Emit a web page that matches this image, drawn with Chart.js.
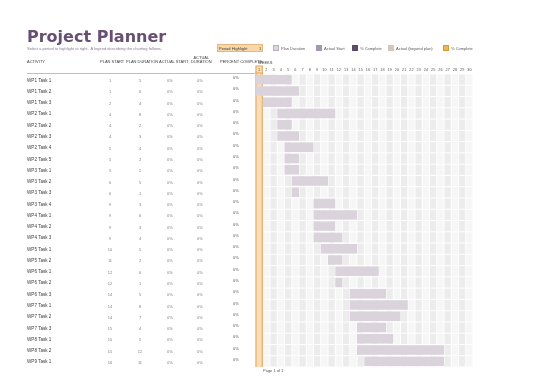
<!DOCTYPE html>
<html>
<head>
<meta charset="utf-8">
<script src="https://cdn.jsdelivr.net/npm/chart.js@4.4.0/dist/chart.umd.min.js"></script>
<style>
  body { margin: 0; background: #fff; }
  #page { position: relative; width: 550px; height: 388px; overflow: hidden; font-family: "Liberation Sans", Arial, sans-serif; color: #595959; }
  #chart { position: absolute; left: 0; top: 0; }
  .t { position: absolute; white-space: nowrap; line-height: 1; }
  #title { left: 27px; top: 27px; font: bold 16px "DejaVu Sans", sans-serif; color: #674f72; }
  #sub { left: 27px; top: 47px; font-size: 4px; color: #8a7a93; }
  .hd { font-size: 4px; top: 60px; color: #404040; }
  .cell { font-size: 4.6px; color: #404040; }
  .num { font-size: 4px; color: #7f7f7f; transform: translateX(-50%); }
  #rule { position: absolute; left: 27px; top: 73px; width: 228px; height: 1px; background: #bfbfbf; }
  #ph { position: absolute; left: 217px; top: 44px; width: 46px; height: 8px; background: #f9d7a9; border: 0.5px solid #e3b77d; box-sizing: border-box; }
  .sw { position: absolute; top: 45px; width: 6px; height: 6px; box-sizing: border-box; }
  .lg { font-size: 4px; top: 46.5px; color: #595959; }
</style>
</head>
<body>
<div id="page">
  <canvas id="chart" width="550" height="388"></canvas>
  <div class="t" id="title">Project Planner</div>
  <div class="t" id="sub">Select a period to highlight at right.&nbsp; A legend describing the charting follows.</div>
  <div id="ph"></div>
  <div class="t lg" style="left:219px;color:#404040">Period Highlight</div>
  <div class="t lg" style="left:259px;color:#404040">1</div>
  <div id="legend"></div>
  <div class="t hd" style="left:27px">ACTIVITY</div>
  <div class="t hd" style="left:100px">PLAN START</div>
  <div class="t hd" style="left:126px">PLAN DURATION</div>
  <div class="t hd" style="left:159px">ACTUAL START</div>
  <div class="t hd" style="left:191px;top:56px;text-align:center">ACTUAL<br>DURATION</div>
  <div class="t hd" style="left:220px">PERCENT COMPLETE</div>
  <div class="t hd" style="left:258px;top:61px">WEEKS</div>
  <div id="rule"></div>
  <div id="rows"></div>
  <div class="t" style="left:263px;top:369px;font-size:4px;color:#595959">Page 1 of 1</div>
</div>
<script>
// donnees du planning
const activities = ['WP1 Task 1', 'WP1 Task 2', 'WP1 Task 3', 'WP2 Task 1', 'WP2 Task 2', 'WP2 Task 3', 'WP2 Task 4', 'WP2 Task 5',
  'WP3 Task 1', 'WP3 Task 2', 'WP3 Task 3', 'WP3 Task 4', 'WP4 Task 1', 'WP4 Task 2', 'WP4 Task 3', 'WP5 Task 1', 'WP5 Task 2',
  'WP6 Task 1', 'WP6 Task 2', 'WP6 Task 3', 'WP7 Task 1', 'WP7 Task 2', 'WP7 Task 3', 'WP8 Task 1', 'WP8 Task 2', 'WP9 Task 1'];
const planStart = [1, 1, 2, 4, 4, 4, 5, 5, 5, 6, 6, 9, 9, 9, 9, 10, 11, 12, 12, 14, 14, 14, 15, 15, 15, 16];
const planDuration = [5, 6, 4, 8, 2, 3, 4, 2, 2, 5, 1, 3, 6, 3, 4, 5, 2, 6, 1, 5, 8, 7, 4, 5, 12, 11];
const actualStart = activities.map(() => '0%');
const actualDuration = activities.map(() => '0%');
const percentComplete = activities.map(() => '0%');
const periods = 30;
const highlightPeriod = 1;

const legendItems = [
  { x: 273, label: 'Plan Duration', fill: '#ddd5e0', border: '#b9adc2' },
  { x: 316, label: 'Actual Start', fill: '#a596b3', border: '#a596b3' },
  { x: 352, label: '% Complete', fill: '#5d4a6c', border: '#5d4a6c' },
  { x: 388, label: 'Actual (beyond plan)', fill: '#d9c5b8', border: '#d9c5b8' },
  { x: 443, label: '% Complete', fill: '#e8b75c', border: '#d99a2b' }
];
const legend = document.getElementById('legend');
legendItems.forEach(item => {
  legend.insertAdjacentHTML('beforeend',
    `<div class="sw" style="left:${item.x}px;background:${item.fill};border:0.5px solid ${item.border}"></div>` +
    `<div class="t lg" style="left:${item.x + 8}px">${item.label}</div>`);
});

// grille des periodes
const gridPlugin = {
  id: 'grid',
  beforeDraw(chart) {
    const { ctx, chartArea, scales: { x, y } } = chart;
    const band = y.getPixelForValue(1) - y.getPixelForValue(0);
    ctx.save();
    for (let w = 1; w <= periods; w++) {
      const x0 = x.getPixelForValue(w - 0.5);
      const x1 = x.getPixelForValue(w + 0.5);
      if (w === highlightPeriod) {
        ctx.fillStyle = '#f9dcb9';
        ctx.fillRect(x0, chartArea.top - 8, x1 - x0, chartArea.bottom - chartArea.top + 8);
        ctx.strokeStyle = '#e2a754';
        ctx.lineWidth = 1;
        ctx.beginPath();
        ctx.moveTo(x0 + 0.5, chartArea.top - 8); ctx.lineTo(x0 + 0.5, chartArea.bottom);
        ctx.moveTo(x1 - 0.5, chartArea.top - 8); ctx.lineTo(x1 - 0.5, chartArea.bottom);
        ctx.moveTo(x0, chartArea.top - 8); ctx.lineTo(x1, chartArea.top - 8);
        ctx.moveTo(x0, chartArea.top - 1); ctx.lineTo(x1, chartArea.top - 1);
        ctx.stroke();
        continue;
      }
      ctx.fillStyle = w % 2 ? '#ececec' : '#f6f6f6';
      for (let i = 0; i < activities.length; i++) {
        const yc = y.getPixelForValue(i);
        ctx.fillRect(x0 + 0.5, yc - band / 2 + 0.5, x1 - x0 - 1, band - 1);
      }
    }
    ctx.restore();
  }
};

const chart = new Chart(document.getElementById('chart'), {
  type: 'bar',
  data: {
    labels: activities,
    datasets: [{
      label: 'Plan Duration',
      data: planStart.map((s, i) => [s - 0.5, s - 0.5 + planDuration[i]]),
      backgroundColor: '#dbd3dc',
      borderWidth: 0,
      barPercentage: 0.84,
      categoryPercentage: 1
    }]
  },
  options: {
    indexAxis: 'y',
    responsive: false,
    animation: false,
    events: [],
    layout: { padding: { left: 255.5, right: 77, top: 66, bottom: 21 } },
    plugins: { legend: { display: false }, tooltip: { enabled: false } },
    scales: {
      x: {
        type: 'linear',
        position: 'top',
        min: 0.5,
        max: periods + 0.5,
        afterFit: scale => { scale.height = 8; },
        afterBuildTicks: scale => {
          scale.ticks = [];
          for (let w = 1; w <= periods; w++) scale.ticks.push({ value: w });
        },
        grid: { display: false, drawTicks: false, tickLength: 0 },
        border: { display: false },
        ticks: { autoSkip: false, maxRotation: 0, padding: 2, color: '#595959', font: { size: 3.8, family: 'Liberation Sans' } }
      },
      y: {
        display: false
      }
    }
  },
  plugins: [gridPlugin]
});

// colonnes du tableau
const rows = document.getElementById('rows');
activities.forEach((name, i) => {
  const yc = chart.scales.y.getPixelForValue(i);
  rows.insertAdjacentHTML('beforeend',
    `<div class="t cell" style="left:27px;top:${yc - 1}px">${name}</div>` +
    `<div class="t num" style="left:110px;top:${yc - 0.5}px">${planStart[i]}</div>` +
    `<div class="t num" style="left:140px;top:${yc - 0.5}px">${planDuration[i]}</div>` +
    `<div class="t num" style="left:170px;top:${yc - 0.5}px">${actualStart[i]}</div>` +
    `<div class="t num" style="left:200px;top:${yc - 0.5}px">${actualDuration[i]}</div>` +
    `<div class="t cell" style="left:233px;top:${yc - 3.5}px;font-size:4px;color:#595959">${percentComplete[i]}</div>`);
});
</script>
</body>
</html>
